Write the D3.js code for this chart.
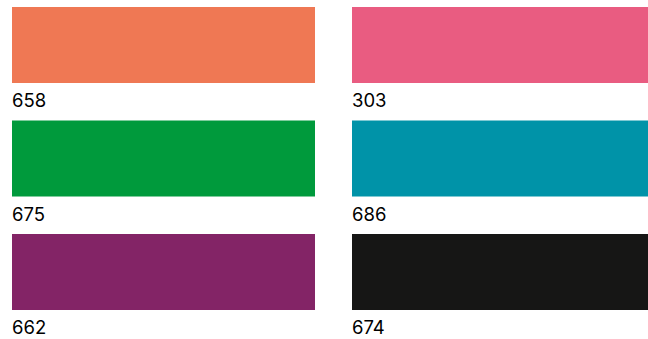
<!DOCTYPE html>
<html><head><meta charset="utf-8">
<script src="https://cdn.jsdelivr.net/npm/d3@7"></script>
<style>html,body{margin:0;padding:0;background:#fff;overflow:hidden}</style>
</head><body><svg id="c" width="648" height="339"></svg>
<script>
const codes = ["658","303","675","686","662","674"];
const colors = ["#EF7854","#E95C81","#009A3C","#0093A8","#832466","#161615"];
const cols = [0,1];
const rows = [0,1,2];

const svg = d3.select("#c");
const x = d3.scaleBand().domain(cols).range([12, 655]).paddingInner(37/340).paddingOuter(0);
const y = d3.scaleBand().domain(rows).range([7, 310]).paddingInner(37.5/113.5).paddingOuter(0);
const data = codes.map((c,i)=>({code:c,color:colors[i],col:i%2,row:Math.floor(i/2)}));
const g = svg.selectAll("g.s").data(data).join("g").attr("class","s");
g.append("rect")
 .attr("x",d=>x(d.col)).attr("y",d=>y(d.row))
 .attr("width",x.bandwidth()).attr("height",y.bandwidth())
 .attr("fill",d=>d.color);
g.append("text")
 .attr("x",d=>x(d.col)).attr("y",d=>y(d.row)+y.bandwidth()+24.3)
 .attr("font-family","Inter, sans-serif")
 .attr("font-size",18.5).attr("font-weight",400).attr("fill","#000")
 .text(d=>d.code);
</script></body></html>
